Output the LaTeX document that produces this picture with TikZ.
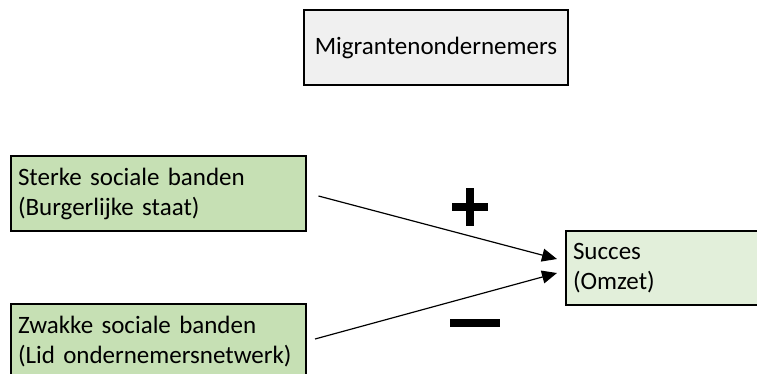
\documentclass[tikz,border=0pt]{standalone}
\usepackage{fontspec}
\setmainfont{Carlito}
\usetikzlibrary{arrows.meta,calc}
\definecolor{greyfill}{HTML}{F0F0F0}
\definecolor{greenfill}{HTML}{C6E0B4}
\definecolor{lightgreen}{HTML}{E2EFDA}

\begin{document}
\begin{tikzpicture}[x=1pt,y=-1pt]
  \tikzstyle{box}=[draw,line width=2pt,outer sep=0pt,inner ysep=0pt,anchor=north west,minimum height=75,font=\fontsize{25}{30}\selectfont]
  \tikzstyle{varbox}=[box,fill=greenfill,inner xsep=7pt,text width=281pt,align=left]
  \tikzstyle{effect}=[line width=1.2pt,-{Triangle[length=15pt,width=13pt]}]
  \tikzstyle{sign}=[line width=8pt]
  \useasboundingbox (0,0) rectangle (757,373);
  \clip (0,0) rectangle (757,373);

  \node [box,fill=greyfill,inner xsep=0pt,minimum width=264] (migr) at (304,10) {Migrantenondernemers};
  \node [varbox] (sterk) at (11,156) {Sterke sociale banden\\(Burgerlijke staat)};
  \node [varbox] (zwak) at (11,304) {Zwakke sociale banden\\(Lid ondernemersnetwerk)};
  \node [box,fill=lightgreen,inner xsep=7pt,text width=200pt,align=left,minimum height=74] (succes) at (566,231) {Succes\\(Omzet)};

  \draw [effect] ($(sterk.east)+(12.5,2.5)$) -- ($(succes.west)+(-9,-9)$);
  \draw [effect] ($(zwak.east)+(9,-2.5)$) -- ($(succes.west)+(-9,5)$);

  % plus / minus
  \coordinate (plus) at (470,207);
  \coordinate (minus) at (475,323);
  \draw [sign] ($(plus)+(0,-19)$) -- ($(plus)+(0,19)$);
  \draw [sign] ($(plus)+(-18,0)$) -- ($(plus)+(18,0)$);
  \draw [sign] ($(minus)+(-25,0)$) -- ($(minus)+(25,0)$);
\end{tikzpicture}
\end{document}
